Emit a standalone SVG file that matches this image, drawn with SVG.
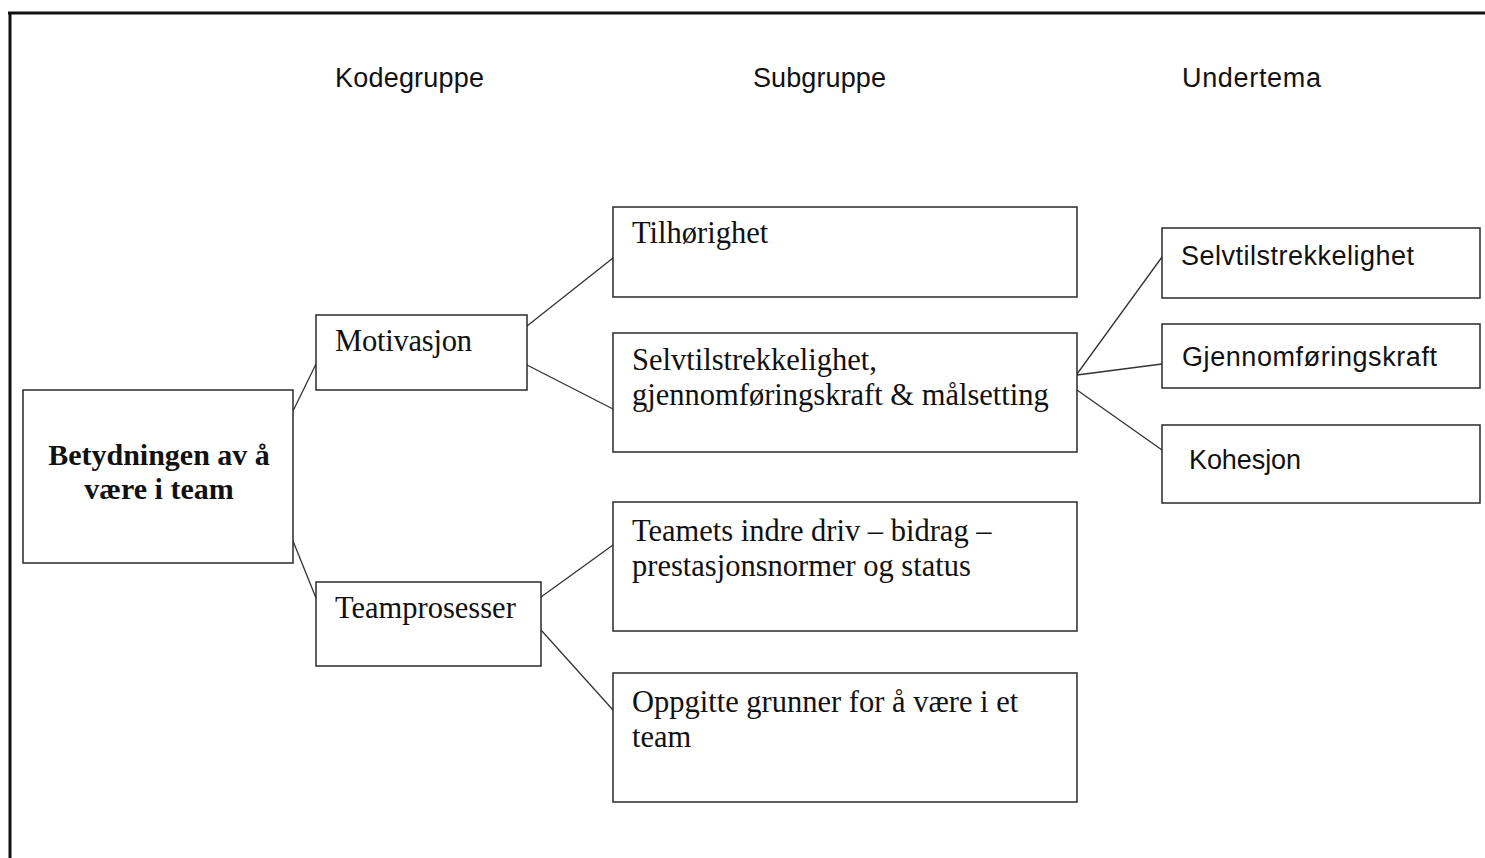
<svg xmlns="http://www.w3.org/2000/svg" width="1485" height="858" viewBox="0 0 1485 858">
<style>
.box{fill:#fff;stroke:#2a2a2a;stroke-width:1.5}
.con line{stroke:#333;stroke-width:1.3}
.serif{font-family:"Liberation Serif","Times New Roman",serif;font-size:30.5px;fill:#111}
.bold{font-weight:bold;text-anchor:middle;font-size:30px}
.sans{font-family:"Liberation Sans",Arial,sans-serif;font-size:27px;fill:#111}
</style>
<rect width="1485" height="858" fill="#fff"/>
<g id="frame">
<line x1="8" y1="13" x2="1485" y2="13" stroke="#111" stroke-width="3"/>
<line x1="10" y1="12" x2="10" y2="858" stroke="#111" stroke-width="3"/>
</g>
<g id="headers">
<text class="sans" x="335" y="87" textLength="149">Kodegruppe</text>
<text class="sans" x="753" y="87" textLength="133">Subgruppe</text>
<text class="sans" x="1182" y="87" textLength="139">Undertema</text>
</g>
<g class="con" id="connectors">
<line x1="293" y1="411" x2="316" y2="364"/>
<line x1="293" y1="541" x2="316" y2="598"/>
<line x1="527" y1="326" x2="613" y2="258"/>
<line x1="527" y1="365" x2="613" y2="409"/>
<line x1="541" y1="597" x2="613" y2="545"/>
<line x1="541" y1="630" x2="613" y2="710"/>
<line x1="1077" y1="374" x2="1162" y2="257"/>
<line x1="1077" y1="375" x2="1162" y2="364"/>
<line x1="1077" y1="390" x2="1162" y2="450"/>
</g>
<g id="root">
<rect class="box" x="23" y="390" width="270" height="173"/>
<text class="serif bold" x="159" y="465">Betydningen av å</text>
<text class="serif bold" x="159" y="499">være i team</text>
</g>
<g id="motivasjon">
<rect class="box" x="316" y="315" width="211" height="75"/>
<text class="serif" x="335" y="351" textLength="137">Motivasjon</text>
</g>
<g id="teamprosesser">
<rect class="box" x="316" y="582" width="225" height="84"/>
<text class="serif" x="335" y="618">Teamprosesser</text>
</g>
<g id="tilhorighet">
<rect class="box" x="613" y="207" width="464" height="90"/>
<text class="serif" x="632" y="243">Tilhørighet</text>
</g>
<g id="selv-gjennom-mal">
<rect class="box" x="613" y="333" width="464" height="119"/>
<text class="serif" x="632" y="370">Selvtilstrekkelighet,</text>
<text class="serif" x="632" y="405">gjennomføringskraft &amp; målsetting</text>
</g>
<g id="teamets">
<rect class="box" x="613" y="502" width="464" height="129"/>
<text class="serif" x="632" y="541">Teamets indre driv – bidrag –</text>
<text class="serif" x="632" y="576">prestasjonsnormer og status</text>
</g>
<g id="oppgitte">
<rect class="box" x="613" y="673" width="464" height="129"/>
<text class="serif" x="632" y="712">Oppgitte grunner for å være i et</text>
<text class="serif" x="632" y="747">team</text>
</g>
<g id="selvtilstrekkelighet">
<rect class="box" x="1162" y="228" width="318" height="70"/>
<text class="sans" x="1181" y="265" textLength="233">Selvtilstrekkelighet</text>
</g>
<g id="gjennomforingskraft">
<rect class="box" x="1162" y="324" width="318" height="64"/>
<text class="sans" x="1182" y="366" textLength="255">Gjennomføringskraft</text>
</g>
<g id="kohesjon">
<rect class="box" x="1162" y="425" width="318" height="78"/>
<text class="sans" x="1189" y="469" textLength="112">Kohesjon</text>
</g>
</svg>
